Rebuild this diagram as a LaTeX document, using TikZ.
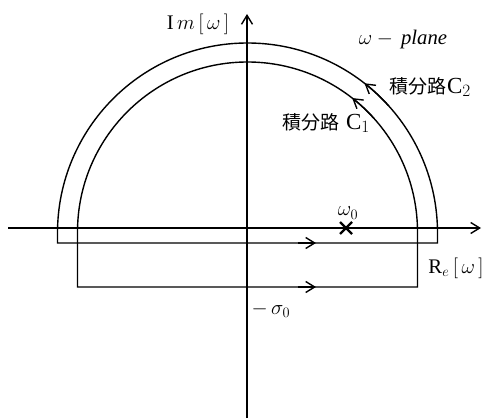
\documentclass[tikz,border=0pt]{standalone}
\usepackage{fontspec}
\setmainfont{Liberation Serif}
\newfontfamily\cjk{Noto Sans CJK JP}
\usetikzlibrary{arrows.meta,calc}
\begin{document}
\begin{tikzpicture}[x=1pt,y=1pt,line width=1.4pt,
  barb/.style={-{Straight Barb[length=9pt,width=11pt,line width=1.4pt]}},
  lbl/.style={inner sep=0pt,font=\fontsize{17.28}{20}\selectfont,scale=1.2,transform shape},
  cjklbl/.style={inner sep=0pt,font=\fontsize{19}{22}\selectfont},
  cross/.style={line width=2.2pt}]
\useasboundingbox (0,0) rectangle (487,418);
% axes
\coordinate (reL) at (8,190);
\coordinate (reR) at (481,190);
\coordinate (imB) at (247,0);
\coordinate (imT) at (247,404);
\draw[barb] (reL) -- (reR);
\draw[barb] (imB) -- (imT);
% contour C2
\coordinate (c2BL) at (57.5,175);
\coordinate (c2BR) at (437.5,175);
\draw (c2BL) -- (57.5,185) arc (180:0:190) -- (c2BR) -- cycle;
% contour C1
\coordinate (c1BL) at (77.5,131);
\coordinate (c1BR) at (417.5,131);
\draw (c1BL) -- (77.5,186) arc (180:0:170) -- (c1BR) -- cycle;
% direction arrows
\draw[barb] (298,175) -- (316,175);
\draw[barb] (298,131) -- (316,131);
\draw[barb] (247.5,185) ++(42:190) arc (42:52:190);
\draw[barb] (247.5,186) ++(42:170) arc (42:52:170);
% pole
\coordinate (w0) at (346,190);
\draw[cross] ($(w0)+(-6,-6)$) -- ($(w0)+(6,6)$) ($(w0)+(-6,6)$) -- ($(w0)+(6,-6)$);
% labels
\node[lbl] (im) at (198,394) {$\mathrm{I}\,m\,[\,\omega\,]$};
\node[lbl] (plane) at (403,378) {$\omega-\,\mathit{plane}$};
\node[cjklbl] (c2) at (430,331) {{\cjk 積分路}\kern1pt{\fontsize{23}{26}\selectfont C$_2$}};
\node[cjklbl] (c1) at (326,295) {{\cjk 積分路}\kern7pt{\fontsize{23}{26}\selectfont C$_1$}};
\node[lbl] (w0l) at (348,205) {$\omega_0$};
\node[lbl] (re) at (456,150) {R$_e\,[\,\omega\,]$};
\node[lbl] (sig) at (271,108) {$-\,\sigma_0$};
\end{tikzpicture}
\end{document}
